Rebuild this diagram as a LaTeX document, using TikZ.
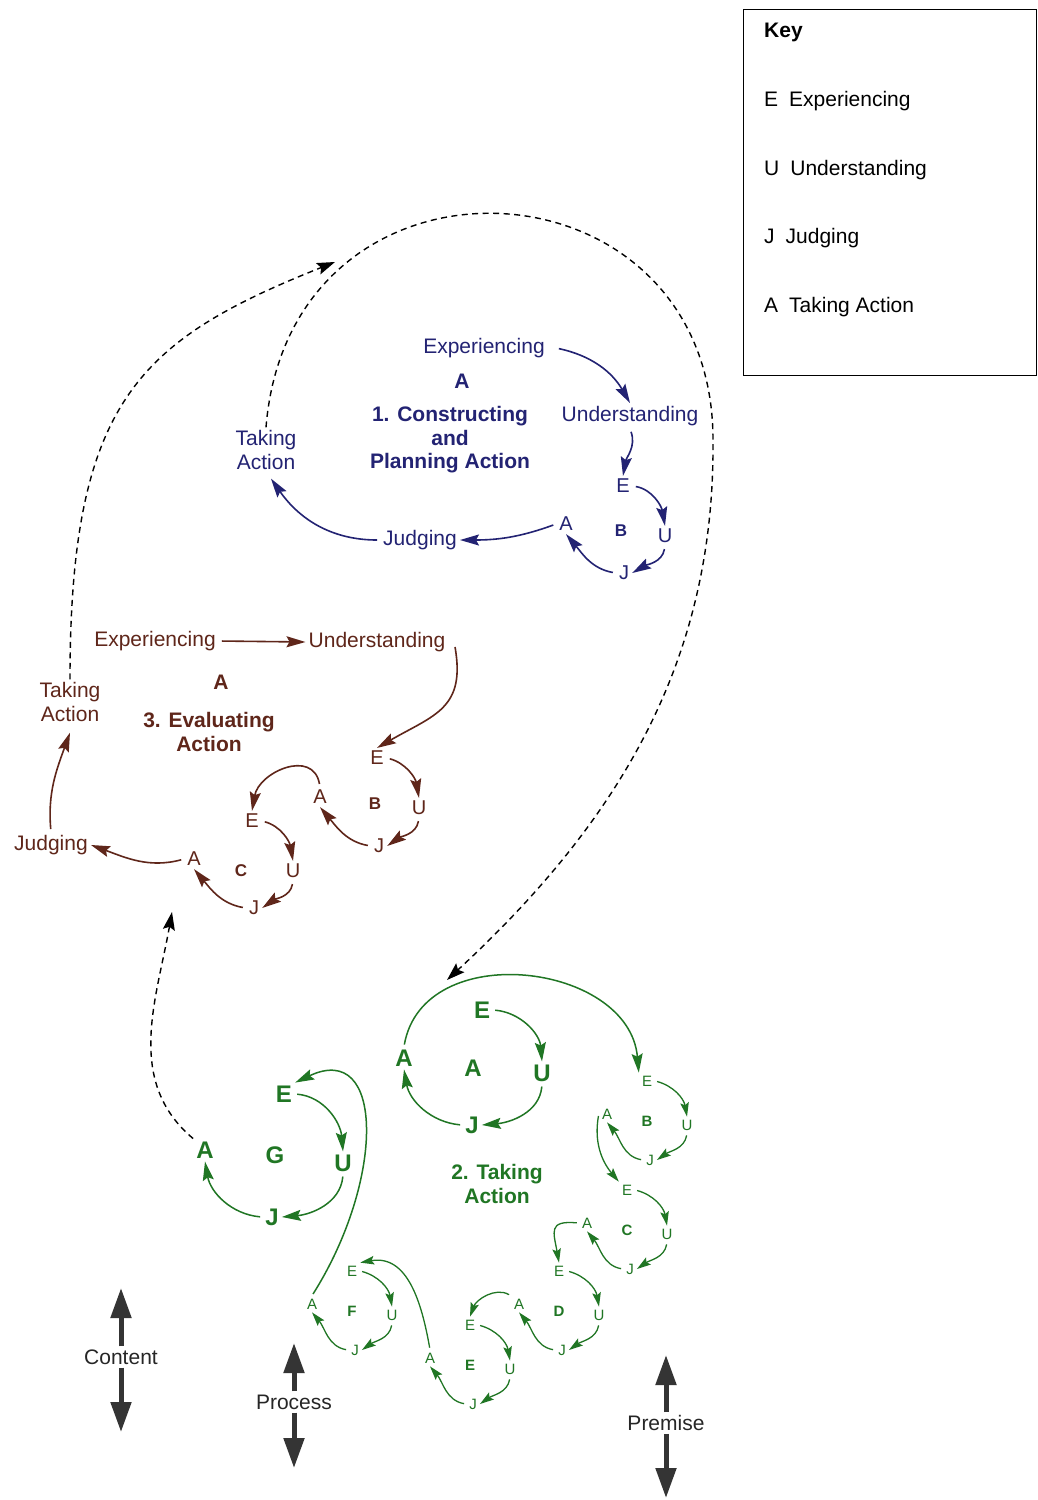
\documentclass[tikz,border=0pt]{standalone}
\usepackage{fontspec}
\setmainfont{Liberation Sans}
\usetikzlibrary{arrows.meta}
\definecolor{bluec}{RGB}{35,35,115}
\definecolor{brownc}{RGB}{95,38,26}
\definecolor{greenc}{RGB}{32,118,36}
\definecolor{grayc}{RGB}{52,52,52}

\tikzset{
  lbl/.style={inner sep=3pt, align=center, font=\fontsize{21}{23.5}\selectfont},
  lblb/.style={inner sep=3pt, align=center, font=\fontsize{21}{23.5}\selectfont\bfseries},
  ltr/.style={inner sep=3pt, font=\fontsize{20}{22}\selectfont},
  ltrb/.style={inner sep=3pt, font=\fontsize{17}{20}\selectfont\bfseries},
  gbig/.style={inner sep=3pt, text=greenc, font=\fontsize{24}{26}\selectfont\bfseries},
  gsm/.style={inner sep=3pt, text=greenc, font=\fontsize{15}{17}\selectfont},
  gsmb/.style={inner sep=3pt, text=greenc, font=\fontsize{15}{17}\selectfont\bfseries},
  keytxt/.style={inner sep=0pt, anchor=west, font=\fontsize{21}{23.5}\selectfont},
  barr/.style={draw=bluec, line width=1.6pt, shorten <=3pt,
    -{Stealth[length=19pt,width=11pt,inset=3pt]}},
  rarr/.style={draw=brownc, line width=1.6pt, shorten <=3pt,
    -{Stealth[length=19pt,width=11pt,inset=3pt]}},
  garr/.style={draw=greenc, line width=1.3pt, shorten <=2pt,
    -{Stealth[length=14pt,width=8.5pt,inset=2.5pt]}},
  gbarr/.style={draw=greenc, line width=1.5pt, shorten <=2pt,
    -{Stealth[length=19pt,width=11pt,inset=3pt]}},
  dashline/.style={draw=black, line width=1.4pt, dash pattern=on 6pt off 4.5pt,
    -{Stealth[length=18pt,width=12pt,inset=3pt]}},
  bigarr/.style={draw=grayc, line width=5pt, -{Triangle[length=30pt,width=20pt]}},
}

% a small green E-U-J-A cycle: prefix, x, y (of E), label
\newcommand{\gsubcycle}[4]{%
  \begin{scope}[shift={(#2,-#3)}]
    \node[gsm] (#1E) at (0,0) {E};
    \node[gsm] (#1U) at (40,-44) {U};
    \node[gsm] (#1J) at (3,-79) {J};
    \node[gsm] (#1A) at (-40,-33) {A};
    \node[gsmb] (#1L) at (0,-40) {#4};
  \end{scope}
  \draw[garr] (#1E.east) to[out=-15,in=100] (#1U.north);
  \draw[garr] (#1U.south) to[out=-100,in=35] (#1J.east);
  \draw[garr] (#1J.west) to[out=170,in=-50] (#1A.south);
}

\begin{document}
\begin{tikzpicture}[x=1pt,y=1pt]
\useasboundingbox (0,0) rectangle (1037,-1500);
\fill[white] (0,0) rectangle (1037,-1500);

% ---------- key ----------
\node[draw, line width=1.3pt, minimum width=293, minimum height=366,
      anchor=north west, inner sep=0pt] (keybox) at (743,-9) {};
\node[keytxt, font=\fontsize{21}{23.5}\selectfont\bfseries] (k0) at (764,-32) {Key};
\node[keytxt] (k1) at (764,-101) {E\hspace{11pt}Experiencing};
\node[keytxt] (k2) at (764,-170) {U\hspace{11pt}Understanding};
\node[keytxt] (k3) at (764,-238) {J\hspace{11pt}Judging};
\node[keytxt] (k4) at (764,-307) {A\hspace{11pt}Taking Action};

% ---------- 1. Constructing and Planning Action ----------
\begin{scope}[text=bluec]
\node[lbl] (bexp) at (484,-348) {Experiencing};
\node[lblb] (blab) at (462,-381) {A};
\node[lblb] (btitle) at (450,-440) {1. Constructing\\and\\Planning Action};
\node[lbl] (bund) at (630,-416) {Understanding};
\node[lbl] (bta) at (266,-450) {Taking\\Action};
\node[ltr] (bE) at (623,-486) {E};
\node[ltr] (bU) at (665,-536) {U};
\node[ltr] (bJ) at (624,-573) {J};
\node[ltr] (bA) at (566,-524) {A};
\node[ltrb] (bB) at (621,-531) {B};
\node[lbl] (bjud) at (420,-540) {Judging};
\end{scope}
\draw[barr] ([xshift=8pt]bexp.east) to[out=-12,in=120] (bund.north);
\draw[barr] (bund.south) to[out=-70,in=80] (bE.north);
\draw[barr] (bE.east) to[out=-10,in=100] (bU.north);
\draw[barr] (bU.south) to[out=-100,in=30] (bJ.east);
\draw[barr] (bJ.west) to[out=170,in=-50] (bA.south);
\draw[barr] (bA.west) to[out=-160,in=0] (bjud.east);
\draw[barr] (bjud.west) to[out=180,in=-55] ([xshift=5pt,yshift=-6pt]bta.south);

% ---------- 3. Evaluating Action ----------
\begin{scope}[text=brownc]
\node[lbl] (rexp) at (155,-641) {Experiencing};
\node[lbl] (rund) at (377,-642) {Understanding};
\node[lblb] (rlab) at (221,-682) {A};
\node[lblb] (rtitle) at (209,-732) {3. Evaluating\\Action};
\node[lbl] (rta) at (70,-702) {Taking\\Action};
\node[ltr] (rE) at (377,-758) {E};
\node[ltr] (rU) at (419,-808) {U};
\node[ltrb] (rB) at (375,-804) {B};
\node[ltr] (rJ) at (379,-846) {J};
\node[ltr] (rA) at (320,-797) {A};
\node[ltr] (rE2) at (252,-821) {E};
\node[ltr] (rU2) at (293,-871) {U};
\node[ltrb] (rC) at (241,-871) {C};
\node[ltr] (rJ2) at (254,-908) {J};
\node[ltr] (rA2) at (194,-859) {A};
\node[lbl] (rjud) at (51,-845) {Judging};
\end{scope}
\draw[rarr] (rexp.east) -- (rund.west);
\draw[rarr] ([xshift=6pt,yshift=-2pt]rund.east) to[out=-80,in=30,looseness=1.3] (rE.north);
\draw[rarr] (rE.east) to[out=-15,in=100] (rU.north);
\draw[rarr] (rU.south) to[out=-100,in=35] (rJ.east);
\draw[rarr] (rJ.west) to[out=170,in=-50] (rA.south);
\draw[rarr] (rA.north) to[out=100,in=80,looseness=1.4] (rE2.north);
\draw[rarr] (rE2.east) to[out=-15,in=100] (rU2.north);
\draw[rarr] (rU2.south) to[out=-100,in=35] (rJ2.east);
\draw[rarr] (rJ2.west) to[out=170,in=-50] (rA2.south);
\draw[rarr] (rA2.west) to[out=-165,in=-20] (rjud.east);
\draw[rarr] (rjud.north) to[out=95,in=-110] ([yshift=-8pt]rta.south);

% ---------- 2. Taking Action ----------
\node[gbig] (gAE) at (482,-1010) {E};
\node[gbig] (gAU) at (542,-1073) {U};
\node[gbig] (gAJ) at (472,-1125) {J};
\node[gbig] (gAA) at (404,-1058) {A};
\node[gbig] (gAL) at (473,-1068) {A};
\node[lblb, text=greenc] (gtitle) at (497,-1184) {2. Taking\\Action};
\draw[gbarr] (gAE.east) to[out=-5,in=95] (gAU.north);
\draw[gbarr] (gAU.south) to[out=-95,in=5] (gAJ.east);
\draw[gbarr] (gAJ.west) to[out=175,in=-80] (gAA.south);

\gsubcycle{gB}{647}{1081}{B}
\gsubcycle{gC}{627}{1190}{C}
\gsubcycle{gD}{559}{1271}{D}
\gsubcycle{gE}{470}{1325}{E}
\gsubcycle{gF}{352}{1271}{F}

\node[gbig] (gGE) at (284,-1094) {E};
\node[gbig] (gGU) at (343,-1163) {U};
\node[gbig] (gGJ) at (272,-1217) {J};
\node[gbig] (gGA) at (205,-1150) {A};
\node[gbig] (gGL) at (275,-1155) {G};
\draw[gbarr] (gGE.east) to[out=-5,in=95] (gGU.north);
\draw[gbarr] (gGU.south) to[out=-95,in=5] (gGJ.east);
\draw[gbarr] (gGJ.west) to[out=175,in=-80] (gGA.south);

% links between the sub-cycles
\draw[gbarr] (gAA.north) to[out=80,in=95,looseness=1.2] (gBE.north west);
\draw[garr] (gBA.west) to[out=-100,in=130] (gCE.north west);
\draw[garr] (gCA.west) to[out=175,in=100,looseness=1.8] (gDE.north);
\draw[garr] (gDA.north west) to[out=150,in=70] (gEE.north);
\draw[garr] (gEA.north) to[out=100,in=10,looseness=1.1] (gFE.north east);
\draw[gbarr] (gFA.north) .. controls (385,-1180) and (385,-1040) .. (gGE.north east);

% ---------- dashed links between the stages ----------
\coordinate (d1end) at (335,-262);
\coordinate (d2end) at (447,-980);
\coordinate (d3end) at (172,-912);
\draw[dashline] (rta.north) .. controls (70,-400) and (140,-340) .. (d1end);
\draw[dashline] (bta.north) .. controls (290,-130) and (713,-150) .. (713,-440)
   .. controls (715,-660) and (620,-820) .. (d2end);
\draw[dashline] (gGA.north west) to[out=140,in=-100] (d3end);

% ---------- levels ----------
\node[lbl, text=black!85] (content) at (121,-1357) {Content};
\node[lbl, text=black!85] (process) at (294,-1402) {Process};
\node[lbl, text=black!85] (premise) at (666,-1423) {Premise};
\coordinate (contentup) at (121,-1288);
\coordinate (contentdn) at (121,-1432);
\coordinate (processup) at (294,-1343);
\coordinate (processdn) at (294,-1468);
\coordinate (premiseup) at (666,-1355);
\coordinate (premisedn) at (666,-1498);
\draw[bigarr] (content.north) -- (contentup);
\draw[bigarr] (content.south) -- (contentdn);
\draw[bigarr] (process.north) -- (processup);
\draw[bigarr] (process.south) -- (processdn);
\draw[bigarr] (premise.north) -- (premiseup);
\draw[bigarr] (premise.south) -- (premisedn);
\end{tikzpicture}
\end{document}
